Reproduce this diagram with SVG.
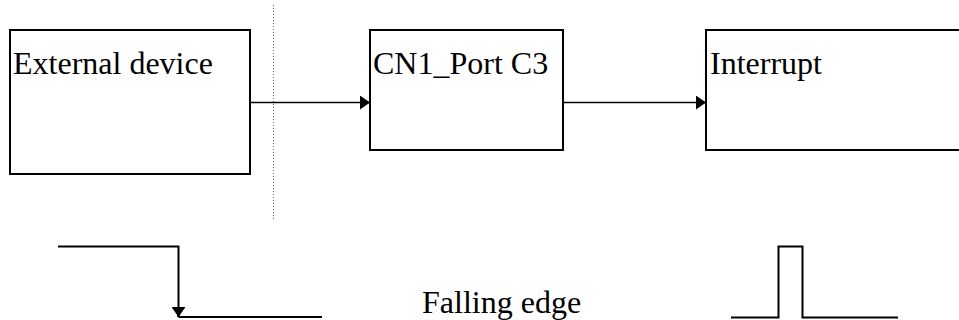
<svg xmlns="http://www.w3.org/2000/svg" width="959" height="320" viewBox="0 0 959 320">
  <style>
    .box { fill: #ffffff; stroke: #000000; stroke-width: 2; }
    .lbl { font-family: "Liberation Serif", "Times New Roman", serif; font-size: 32px; fill: #000000; }
    .wire { fill: none; stroke: #000000; stroke-width: 1.5; }
    .wave { fill: none; stroke: #000000; stroke-width: 2; }
  </style>
  <defs>
    <marker id="arr" viewBox="0 0 10 14" refX="10" refY="7" markerWidth="10" markerHeight="14" markerUnits="userSpaceOnUse" orient="auto">
      <path d="M0,0 L10,7 L0,14 Z" fill="#000000"/>
    </marker>
  </defs>
  <rect width="959" height="320" fill="#ffffff"/>
  <line x1="273.5" y1="5" x2="273.5" y2="220" stroke="#666666" stroke-width="1" stroke-dasharray="1,2"/>
  <g id="external-device">
    <rect class="box" x="10" y="30" width="240" height="144"/>
    <text class="lbl" x="13" y="74">External device</text>
  </g>
  <g id="cn1-port-c3">
    <rect class="box" x="370" y="30" width="193" height="120"/>
    <text class="lbl" x="373" y="74">CN1_Port C3</text>
  </g>
  <g id="interrupt">
    <rect class="box" x="706" y="30" width="270" height="120"/>
    <text class="lbl" x="710" y="74">Interrupt</text>
  </g>
  <g id="connectors">
    <line class="wire" x1="250" y1="102.5" x2="370" y2="102.5" marker-end="url(#arr)"/>
    <line class="wire" x1="563" y1="102.5" x2="706" y2="102.5" marker-end="url(#arr)"/>
  </g>
  <g id="falling-edge-wave">
    <polyline class="wave" points="58,246.5 178.5,246.5 178.5,317"/>
    <line class="wave" x1="178.5" y1="308" x2="178.5" y2="317" marker-end="url(#arr)"/>
    <line class="wave" x1="178.5" y1="317" x2="322" y2="317"/>
  </g>
  <text class="lbl" x="422" y="313">Falling edge</text>
  <g id="pulse-wave">
    <polyline class="wave" points="731,317.5 778.5,317.5 778.5,246.5 802.5,246.5 802.5,317.5 898,317.5"/>
  </g>
</svg>
